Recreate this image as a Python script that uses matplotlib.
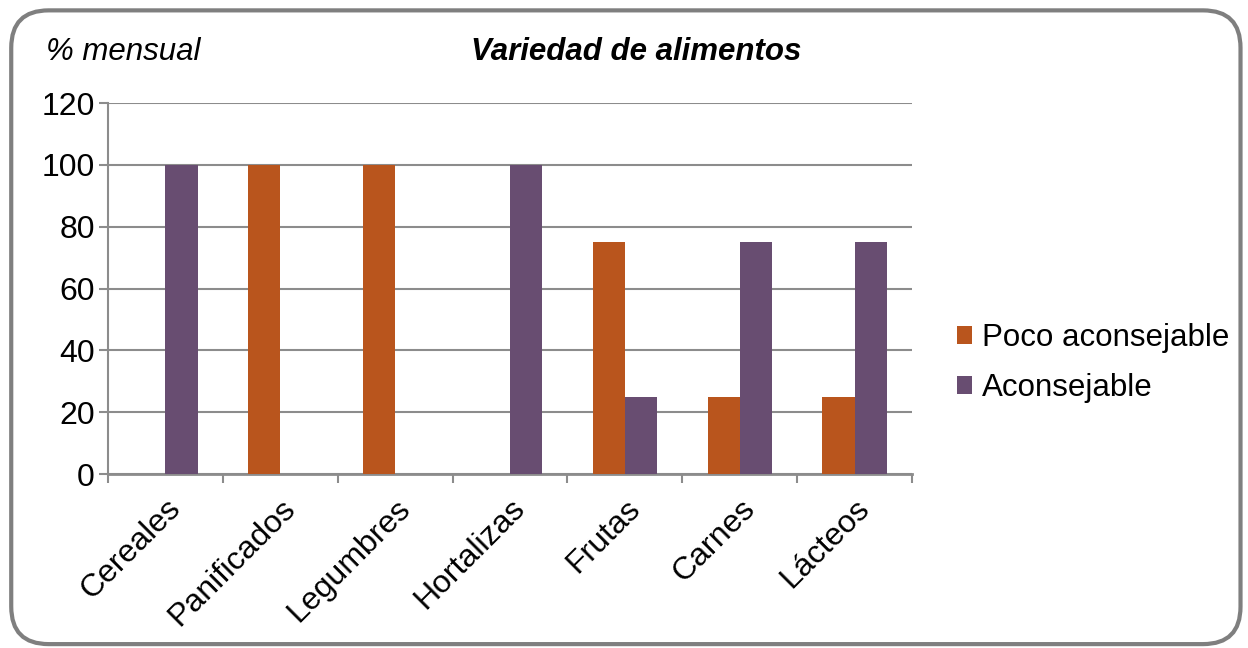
import numpy as np
import matplotlib.pyplot as plt
from matplotlib.patches import FancyBboxPatch

plt.rcParams['font.family'] = ['Liberation Sans', 'DejaVu Sans']

# datos
categorias = ["Cereales", "Panificados", "Legumbres", "Hortalizas", "Frutas", "Carnes", "Lácteos"]
poco_aconsejable = [0, 100, 100, 0, 75, 25, 25]
aconsejable = [100, 0, 0, 100, 25, 75, 75]

c_poco = "#B9551D"
c_acon = "#684D71"
gris = "#8C8C8C"

fig = plt.figure(figsize=(12.48, 6.48), dpi=100)

# marco redondeado
marco = FancyBboxPatch((0.009, 0.006), 0.985, 0.978, transform=fig.transFigure,
                       boxstyle="round,pad=0,rounding_size=0.03",
                       fc="white", ec="#7F7F7F", lw=3, zorder=-5,
                       mutation_aspect=12.48 / 6.48)
fig.patches.append(marco)

ax = fig.add_axes([0.0865, 0.2685, 0.6443, 0.5725])
ax.set_facecolor("none")

x = np.arange(len(categorias))
w = 0.28
ax.bar(x - w / 2, poco_aconsejable, w, color=c_poco, label="Poco aconsejable", zorder=3)
ax.bar(x + w / 2, aconsejable, w, color=c_acon, label="Aconsejable", zorder=3)

ax.set_xlim(-0.5, len(categorias) - 0.5)
ax.set_ylim(0, 120)
ax.set_yticks(range(0, 121, 20))
ax.yaxis.grid(True, color=gris, lw=1.5, zorder=0)

for s in ["top", "right"]:
    ax.spines[s].set_visible(False)
ax.spines["left"].set_color(gris)
ax.spines["bottom"].set_color(gris)
ax.spines["left"].set_linewidth(1.5)
ax.spines["bottom"].set_linewidth(2)

# ticks del eje x en los limites de categoria
ax.set_xticks(np.arange(-0.5, len(categorias), 1.0))
ax.set_xticklabels([])
ax.set_xticks(x, minor=True)
ax.set_xticklabels(categorias, minor=True, rotation=45, ha="right",
                   rotation_mode="anchor", fontsize=23)
ax.tick_params(axis="x", which="major", direction="out", length=6.5, width=1.5, color=gris)
ax.tick_params(axis="x", which="minor", length=0, pad=14)
ax.tick_params(axis="y", direction="out", length=6.5, width=1.5, color=gris,
               labelsize=23, pad=3)

fig.text(0.037, 0.92, "% mensual", fontsize=22.5, style="italic", va="center")
fig.text(0.51, 0.92, "Variedad de alimentos", fontsize=22.5, style="italic",
         weight="bold", ha="center", va="center")

fig.legend(loc="center left", bbox_to_anchor=(0.744, 0.44), frameon=False,
           fontsize=22.5, handlelength=0.5, handleheight=0.5, handletextpad=0.3,
           labelspacing=0.65)

fig.savefig("out.png", dpi=100)
